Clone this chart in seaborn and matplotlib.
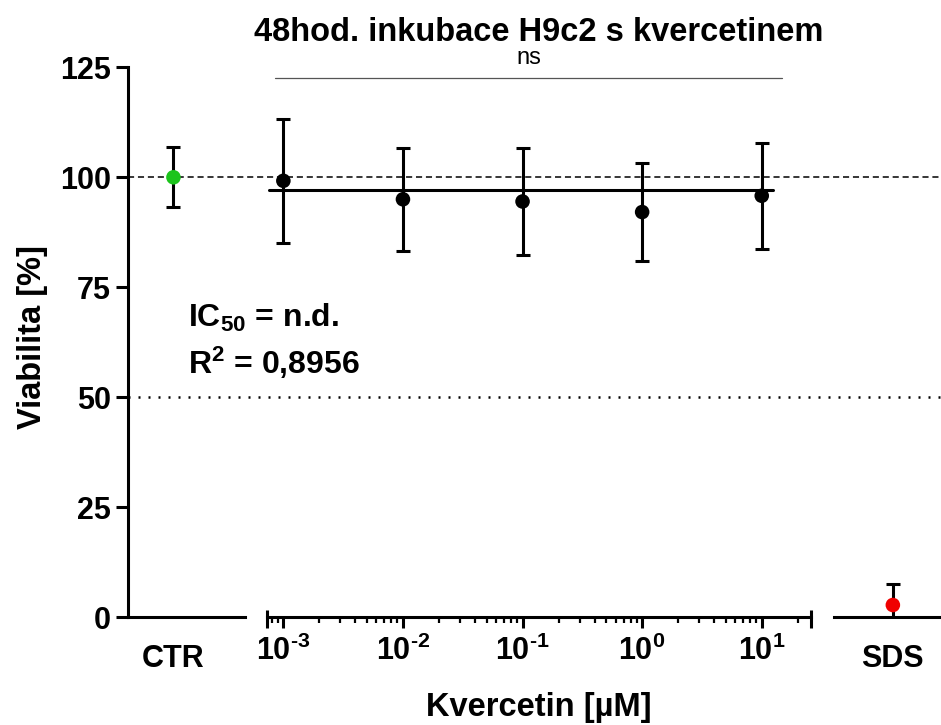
import matplotlib
matplotlib.use('Agg')
import matplotlib.pyplot as plt
import numpy as np
import pandas as pd
import seaborn as sns
from matplotlib.ticker import LogLocator, FixedLocator, NullFormatter

# data
conc = [1e-3, 1e-2, 1e-1, 1e0, 1e1]
conc_labels = [r'$10^{\text{-}3}$', r'$10^{\text{-}2}$', r'$10^{\text{-}1}$', '$10^{0}$', '$10^{1}$']
viab_mean = [99.2, 95.0, 94.5, 92.1, 95.8]
viab_sd = [14.1, 11.7, 12.2, 11.2, 12.1]

ctr_mean = [100.0]
ctr_sd = [6.85]
sds_mean = [2.8]
sds_sd = [4.7]

fit_x = [7.6e-4, 12.4]
fit_y = [97.1, 97.1]

ns_x = [8.5e-4, 14.8]
ns_y = [122.5, 122.5]

y_ticks = [0, 25, 50, 75, 100, 125]

sns.set_style('ticks')
plt.rcParams['font.family'] = ['Liberation Sans', 'DejaVu Sans']
plt.rcParams['font.weight'] = 'bold'
plt.rcParams['mathtext.fontset'] = 'custom'
plt.rcParams['mathtext.rm'] = 'Liberation Sans:bold'
plt.rcParams['mathtext.bf'] = 'Liberation Sans:bold'
plt.rcParams['mathtext.it'] = 'Liberation Sans:bold'
plt.rcParams['mathtext.default'] = 'rm'
for key in ('text.color', 'axes.labelcolor', 'xtick.color', 'ytick.color', 'axes.edgecolor'):
    plt.rcParams[key] = 'black'

LW = 2.2
FS = 22
DOT = 110

fig = plt.figure(figsize=(9.41, 7.25), dpi=100)
bottom, height = 0.1485, 0.7587

ax_bg = fig.add_axes([0.1357, bottom, 1 - 0.1357, height])
ax_ctr = fig.add_axes([0.1357, bottom, 0.1247, height])
ax_log = fig.add_axes([0.2841, bottom, 0.5775, height])
ax_sds = fig.add_axes([0.8863, bottom, 0.1137, height])

# reference lines across the whole plot
ax_bg.set_ylim(0, 125)
ax_bg.set_xlim(0, 1)
ax_bg.axhline(100, color='black', lw=1.1, dashes=(4, 2.5))
ax_bg.axhline(50, color='black', lw=1.8, dashes=(0.8, 3.2))
ax_bg.axis('off')

# fit annotation
ax_bg.text(0.074, 66.0, 'IC$_{50}$ = n.d.', fontsize=23, fontweight='bold', va='baseline')
ax_bg.text(0.074, 55.3, 'R$^2$ = 0,8956', fontsize=23, fontweight='bold', va='baseline')

for ax in (ax_ctr, ax_log, ax_sds):
    ax.set_ylim(0, 125)
    ax.patch.set_alpha(0)
    sns.despine(ax=ax)
    ax.spines['bottom'].set_linewidth(LW)
    ax.spines['left'].set_linewidth(LW)

# control segment
ctr_df = pd.DataFrame({'x': [0], 'y': ctr_mean})
ax_ctr.errorbar(ctr_df['x'], ctr_df['y'], yerr=ctr_sd, fmt='none', ecolor='black',
                elinewidth=LW, capsize=4.8, capthick=LW)
sns.scatterplot(data=ctr_df, x='x', y='y', ax=ax_ctr, color='#1cc41c', s=DOT,
                edgecolor='none', zorder=5)
ax_ctr.set_xlim(-0.39, 0.61)
ax_ctr.set_xticks([0])
ax_ctr.set_xticklabels(['CTR'])
ax_ctr.tick_params(axis='x', length=0, pad=19, labelsize=FS)
ax_ctr.set_yticks(y_ticks)
ax_ctr.tick_params(axis='y', length=9, width=LW, labelsize=FS, pad=3)
ax_ctr.set_xlabel('')
ax_ctr.set_ylabel('Viabilita [%]', fontsize=23.5, fontweight='bold')
ax_ctr.yaxis.set_label_coords(-0.68, 0.51)

# concentration segment
df = pd.DataFrame({'conc': conc, 'viab': viab_mean, 'sd': viab_sd})
ax_log.set_xscale('log')
ax_log.errorbar(df['conc'], df['viab'], yerr=df['sd'], fmt='none', ecolor='black',
                elinewidth=LW, capsize=4.8, capthick=LW)
sns.lineplot(x=fit_x, y=fit_y, ax=ax_log, color='black', lw=LW, zorder=4)
sns.scatterplot(data=df, x='conc', y='viab', ax=ax_log, color='black', s=DOT,
                edgecolor='none', zorder=5)
ax_log.set_xlim(10 ** -3.134, 10 ** 1.41)
ax_log.spines['left'].set_visible(False)
ax_log.set_yticks([])
ax_log.xaxis.set_major_locator(FixedLocator(conc))
ax_log.set_xticklabels(conc_labels)
ax_log.xaxis.set_minor_locator(LogLocator(base=10, subs=np.arange(2, 10)))
ax_log.xaxis.set_minor_formatter(NullFormatter())
ax_log.tick_params(axis='x', which='major', length=8, width=LW, labelsize=FS, pad=5)
ax_log.tick_params(axis='x', which='minor', length=4.5, width=1.6)
ax_log.set_ylabel('')
ax_log.set_xlabel('Kvercetin [µM]', fontsize=23.5, fontweight='bold', labelpad=18)
for xe in (0, 1):
    ax_log.plot([xe, xe], [-0.019, 0.013], transform=ax_log.transAxes, color='black',
                lw=LW, clip_on=False, solid_capstyle='butt')

# significance bar
ax_log.plot(ns_x, ns_y, color='#555555', lw=0.9, clip_on=False)
ns_mid = np.sqrt(ns_x[0] * ns_x[1])
ax_log.annotate('ns', xy=(ns_mid, ns_y[0]), xytext=(0, 10.5), textcoords='offset points',
                ha='center', va='baseline', fontsize=17, fontweight='normal',
                annotation_clip=False)

ax_log.set_title('48hod. inkubace H9c2 s kvercetinem', fontsize=23.5, fontweight='bold', pad=19)

# SDS segment
sds_df = pd.DataFrame({'x': [0], 'y': sds_mean})
ax_sds.errorbar(sds_df['x'], sds_df['y'], yerr=sds_sd, fmt='none', ecolor='black',
                elinewidth=LW, capsize=4.8, capthick=LW)
sns.scatterplot(data=sds_df, x='x', y='y', ax=ax_sds, color='#f00000', s=DOT,
                edgecolor='none', zorder=5)
ax_sds.set_xlim(-0.55, 0.45)
ax_sds.spines['left'].set_visible(False)
ax_sds.set_yticks([])
ax_sds.set_xticks([0])
ax_sds.set_xticklabels(['SDS'])
ax_sds.tick_params(axis='x', length=0, pad=19, labelsize=FS)
ax_sds.set_xlabel('')
ax_sds.set_ylabel('')

fig.savefig('out.png', dpi=100)
